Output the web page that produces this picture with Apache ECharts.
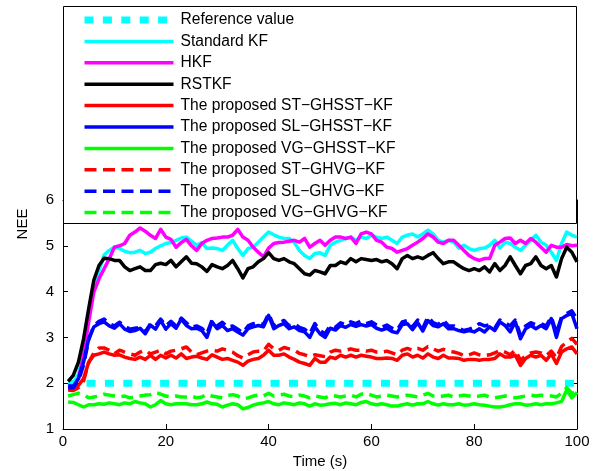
<!DOCTYPE html>
<html>
<head>
<meta charset="utf-8">
<script src="https://cdn.jsdelivr.net/npm/echarts@6/dist/echarts.min.js"></script>
<style>html,body{margin:0;padding:0;background:#fff}#c{width:607px;height:471px}</style>
</head>
<body>
<div id="c"></div>
<script>
const time = Array.from({length: 100}, (_, i) => i + 1);
const xTicks = [0, 20, 40, 60, 80, 100];
const yTicks = [1, 2, 3, 4, 5, 6];
const seriesNames = ['Reference value','Standard KF','HKF','RSTKF','The proposed ST−GHSST−KF','The proposed SL−GHSST−KF','The proposed VG−GHSST−KF','The proposed ST−GHVG−KF','The proposed SL−GHVG−KF','The proposed VG−GHVG−KF'];

const referenceValue = Array(100).fill(2);
const standardKF = [1.95,2.0,2.2,2.7,3.5,4.1,4.45,4.8,4.9,4.97,
4.94,4.88,4.85,4.86,4.9,4.83,4.86,4.94,5.0,5.05,
5.07,5.12,5.17,5.19,5.1,5.01,5.07,4.94,4.95,4.94,
4.9,5.01,5.12,4.94,4.79,4.94,4.97,5.08,5.19,5.3,
5.24,5.19,5.16,5.16,5.07,4.9,4.79,4.72,4.83,4.85,
4.79,5.01,5.08,5.12,5.16,5.19,5.12,5.19,5.16,5.23,
5.19,5.16,5.19,5.12,5.05,5.19,5.23,5.26,5.19,5.26,
5.34,5.26,5.12,5.08,5.12,5.08,4.95,5.01,4.94,4.9,
4.94,4.95,5.01,5.12,4.95,5.08,5.05,4.97,4.9,5.01,
5.12,5.23,5.08,5.01,4.86,4.68,5.05,5.3,5.23,5.19];
const hkf = [1.9,1.92,2.1,2.6,3.34,3.99,4.28,4.5,4.72,4.97,
5.0,5.05,5.23,5.3,5.39,5.32,5.23,5.16,5.36,5.19,
5.14,4.97,5.07,5.14,5.0,4.9,5.05,5.12,5.16,5.17,
5.19,5.19,5.23,5.36,5.19,5.12,4.97,4.86,4.76,4.95,
5.05,5.07,5.08,5.1,5.12,5.08,5.16,4.97,5.05,5.12,
5.01,5.12,5.19,5.19,5.16,5.19,5.05,5.26,5.3,5.26,
5.12,5.08,4.97,4.94,4.86,4.9,4.94,5.01,5.08,5.16,
5.26,5.19,5.08,5.05,5.12,5.12,5.01,4.9,4.79,4.72,
4.68,4.72,4.72,5.01,5.08,5.16,5.17,5.05,5.12,5.05,
5.16,5.08,4.97,4.86,5.01,4.97,4.97,5.03,5.0,5.01];
const rstkf = [2.04,2.17,2.46,2.97,3.63,4.25,4.57,4.73,4.72,4.68,
4.68,4.54,4.46,4.5,4.54,4.46,4.46,4.59,4.62,4.59,
4.68,4.54,4.65,4.76,4.62,4.61,4.54,4.44,4.59,4.54,
4.5,4.57,4.68,4.5,4.3,4.5,4.54,4.65,4.72,4.85,
4.72,4.68,4.72,4.65,4.61,4.5,4.39,4.36,4.46,4.43,
4.39,4.57,4.57,4.65,4.61,4.72,4.65,4.72,4.7,4.68,
4.7,4.65,4.68,4.61,4.5,4.72,4.79,4.72,4.76,4.72,
4.79,4.85,4.72,4.61,4.65,4.65,4.57,4.5,4.46,4.5,
4.46,4.54,4.43,4.61,4.46,4.57,4.76,4.57,4.39,4.57,
4.61,4.76,4.57,4.5,4.57,4.32,4.72,4.97,4.86,4.65];
const stGhsst = [1.9,1.88,1.95,2.1,2.46,2.61,2.64,2.68,2.64,2.61,
2.62,2.57,2.54,2.52,2.57,2.52,2.61,2.52,2.61,2.55,
2.61,2.55,2.64,2.54,2.57,2.59,2.55,2.52,2.62,2.57,
2.52,2.54,2.5,2.46,2.39,2.48,2.52,2.54,2.61,2.72,
2.61,2.61,2.64,2.57,2.52,2.46,2.43,2.39,2.54,2.46,
2.46,2.57,2.54,2.61,2.57,2.61,2.57,2.61,2.59,2.57,
2.54,2.54,2.55,2.54,2.5,2.61,2.64,2.57,2.61,2.55,
2.64,2.57,2.54,2.61,2.55,2.55,2.54,2.5,2.52,2.52,
2.5,2.52,2.52,2.54,2.64,2.57,2.57,2.61,2.39,2.54,
2.61,2.57,2.61,2.5,2.64,2.43,2.68,2.75,2.79,2.64];
const slGhsst = [1.95,1.93,2.1,2.46,2.97,3.23,3.3,3.34,3.25,3.2,
3.3,3.18,3.13,3.15,3.2,3.08,3.27,3.18,3.37,3.18,
3.3,3.2,3.4,3.26,3.19,3.2,3.15,3.0,3.34,3.19,
3.26,3.15,3.19,3.12,3.05,3.19,3.23,3.26,3.23,3.48,
3.19,3.26,3.3,3.19,3.23,3.15,3.12,3.0,3.23,3.08,
3.0,3.2,3.16,3.26,3.22,3.28,3.24,3.28,3.25,3.28,
3.2,3.16,3.2,3.13,3.1,3.28,3.3,3.17,3.32,3.14,
3.37,3.26,3.23,3.3,3.19,3.19,3.15,3.12,3.15,3.12,
3.19,3.12,3.23,3.15,3.34,3.26,3.12,3.34,2.97,3.19,
3.26,3.19,3.26,3.19,3.41,3.0,3.41,3.48,3.52,3.19];
const vgGhsst = [1.59,1.58,1.53,1.48,1.53,1.53,1.55,1.54,1.57,1.55,
1.53,1.57,1.55,1.6,1.57,1.55,1.48,1.53,1.62,1.55,
1.53,1.55,1.55,1.55,1.53,1.53,1.55,1.59,1.55,1.54,
1.48,1.52,1.55,1.53,1.44,1.47,1.52,1.55,1.57,1.6,
1.55,1.53,1.57,1.55,1.53,1.57,1.55,1.5,1.55,1.52,
1.53,1.55,1.56,1.53,1.57,1.55,1.53,1.58,1.6,1.55,
1.53,1.55,1.53,1.5,1.5,1.53,1.55,1.52,1.55,1.55,
1.6,1.55,1.52,1.55,1.53,1.53,1.55,1.52,1.53,1.55,
1.53,1.52,1.5,1.48,1.48,1.5,1.53,1.55,1.55,1.52,
1.53,1.55,1.53,1.55,1.55,1.57,1.6,1.85,1.68,1.8];
const stGhvg = [1.85,1.84,1.9,2.05,2.45,2.66,2.77,2.77,2.72,2.64,
2.72,2.68,2.64,2.61,2.68,2.72,2.64,2.68,2.72,2.64,
2.7,2.72,2.75,2.79,2.68,2.62,2.66,2.7,2.72,2.7,
2.75,2.72,2.68,2.6,2.55,2.62,2.68,2.7,2.7,2.85,
2.75,2.72,2.78,2.75,2.72,2.65,2.62,2.58,2.62,2.6,
2.58,2.68,2.72,2.7,2.72,2.75,2.72,2.72,2.7,2.72,
2.68,2.68,2.7,2.66,2.62,2.72,2.76,2.72,2.76,2.72,
2.8,2.75,2.7,2.74,2.7,2.68,2.65,2.6,2.62,2.66,
2.62,2.6,2.62,2.66,2.72,2.68,2.62,2.72,2.5,2.6,
2.66,2.68,2.66,2.6,2.7,2.55,2.8,2.9,2.98,2.85];
const slGhvg = [1.9,1.9,2.05,2.4,2.95,3.25,3.35,3.4,3.3,3.25,
3.33,3.25,3.18,3.2,3.22,3.12,3.3,3.25,3.4,3.25,
3.35,3.25,3.42,3.32,3.22,3.25,3.2,3.08,3.38,3.25,
3.33,3.22,3.25,3.18,3.1,3.25,3.3,3.32,3.28,3.52,
3.25,3.32,3.37,3.25,3.3,3.22,3.18,3.08,3.3,3.15,
3.08,3.26,3.22,3.32,3.27,3.34,3.3,3.36,3.3,3.34,
3.27,3.22,3.27,3.2,3.16,3.34,3.37,3.23,3.38,3.2,
3.45,3.32,3.28,3.38,3.25,3.25,3.2,3.15,3.18,3.22,
3.3,3.25,3.28,3.2,3.38,3.32,3.25,3.38,3.05,3.25,
3.32,3.28,3.3,3.25,3.45,3.1,3.45,3.52,3.58,3.4];
const vgGhvg = [1.72,1.75,1.78,1.75,1.68,1.7,1.72,1.76,1.74,1.72,
1.7,1.72,1.68,1.7,1.72,1.74,1.75,1.8,1.76,1.72,
1.7,1.72,1.7,1.7,1.72,1.68,1.7,1.76,1.72,1.7,
1.68,1.73,1.75,1.72,1.66,1.68,1.72,1.74,1.72,1.78,
1.72,1.74,1.76,1.72,1.7,1.74,1.72,1.68,1.72,1.7,
1.68,1.74,1.72,1.7,1.72,1.74,1.7,1.76,1.78,1.74,
1.7,1.72,1.74,1.72,1.7,1.72,1.74,1.72,1.7,1.74,
1.78,1.72,1.7,1.72,1.74,1.7,1.72,1.74,1.72,1.7,
1.72,1.74,1.7,1.68,1.7,1.72,1.7,1.68,1.7,1.72,
1.74,1.72,1.74,1.72,1.72,1.7,1.78,1.9,1.78,1.82];

const allValues = [referenceValue, standardKF, hkf, rstkf, stGhsst, slGhsst, vgGhsst, stGhvg, slGhvg, vgGhvg];
const colors = ['#00ffff','#00ffff','#ff00ff','#000000','#ff0000','#0000ff','#00ff00','#ff0000','#0000ff','#00ff00'];
const widths = [7,3.5,3.5,3.5,3.5,3.5,3.5,3.5,3.5,3.5];
const dashes = [[9,9.4],'solid','solid','solid','solid','solid','solid',[12,6.5],[12,6.5],[12,6.5]];

const FONT = 'Liberation Sans, Arial, Helvetica, sans-serif';
const chart = echarts.init(document.getElementById('c'), null, {renderer: 'canvas'});

const series = allValues.map((vals, i) => ({
  name: seriesNames[i],
  type: 'line',
  symbol: 'none',
  animation: false,
  data: time.map((t, k) => [t, vals[k]]),
  lineStyle: {color: colors[i], width: widths[i], type: dashes[i], cap: 'butt', join: 'round'},
  itemStyle: {color: colors[i]},
  z: 2
}));

const legendData = seriesNames.map((n, i) => ({
  name: n,
  itemStyle: {opacity: 0, borderWidth: 0},
  lineStyle: {width: i === 0 ? 7 : 3.5, type: dashes[i], color: colors[i], cap: 'butt'}
}));

chart.setOption({
  animation: false,
  backgroundColor: '#fff',
  grid: {left: 63, right: 30, top: 200, bottom: 42, containLabel: false},
  xAxis: [{
    type: 'value', min: 0, max: 100, interval: 20, position: 'bottom',
    name: 'Time (s)', nameLocation: 'middle', nameGap: 25,
    nameTextStyle: {fontFamily: FONT, fontSize: 15, color: '#000'},
    axisLine: {show: true, onZero: false, lineStyle: {color: '#000', width: 1}},
    axisTick: {show: true, inside: true, length: 5, lineStyle: {color: '#000'}},
    axisLabel: {fontFamily: FONT, fontSize: 15, color: '#000', margin: 5},
    splitLine: {show: false}
  }, {
    type: 'value', min: 0, max: 100, interval: 20, position: 'top',
    axisLine: {show: true, onZero: false, lineStyle: {color: '#000', width: 1}},
    axisTick: {show: true, inside: true, length: 5, lineStyle: {color: '#000'}},
    axisLabel: {show: false}, splitLine: {show: false}
  }],
  yAxis: [{
    type: 'value', min: 1, max: 6, interval: 1, position: 'left',
    axisLine: {show: true, onZero: false, lineStyle: {color: '#000', width: 1}},
    axisTick: {show: true, inside: true, length: 5, lineStyle: {color: '#000'}},
    axisLabel: {fontFamily: FONT, fontSize: 15, color: '#000', margin: 9},
    splitLine: {show: false}
  }, {
    type: 'value', min: 1, max: 6, interval: 1, position: 'right',
    axisLine: {show: true, onZero: false, lineStyle: {color: '#000', width: 1}},
    axisTick: {show: true, inside: true, length: 5, lineStyle: {color: '#000'}},
    axisLabel: {show: false}, splitLine: {show: false}
  }],
  legend: {
    show: true, orient: 'vertical', left: 81, top: 12, padding: 0,
    itemWidth: 89, itemHeight: 14, itemGap: 5.4,
    selectedMode: false, z: 101,
    textStyle: {fontFamily: FONT, fontSize: 15.6, color: '#000', lineHeight: 14, padding: [0,0,0,2]},
    data: legendData
  },
  graphic: [{
    type: 'rect', z: 100, silent: true,
    shape: {x: 63.5, y: 6.5, width: 513, height: 217},
    style: {fill: '#fff', stroke: '#000', lineWidth: 1}
  }, {
    type: 'text', z: 100, silent: true, x: 23, y: 224, rotation: Math.PI / 2,
    style: {text: 'NEE', fontFamily: FONT, fontSize: 15, fill: '#000', align: 'center', verticalAlign: 'middle'}
  }],
  series: series
});
</script>
</body>
</html>
